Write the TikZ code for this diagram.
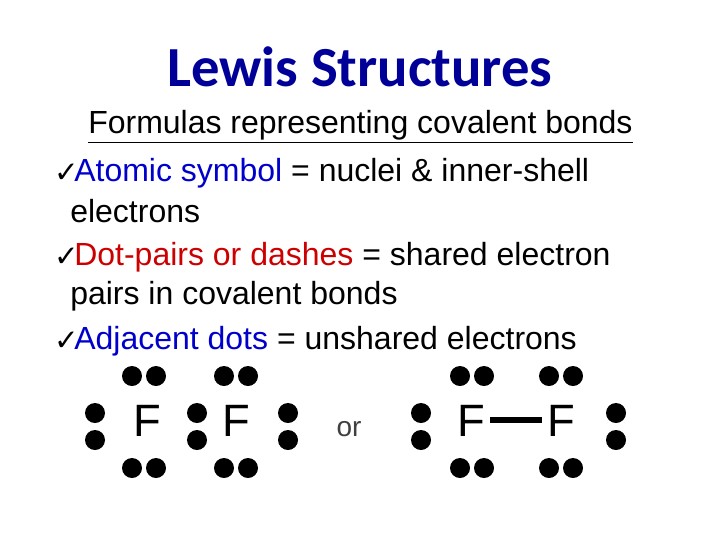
\documentclass[tikz,border=0pt]{standalone}
\usetikzlibrary{calc}
\usepackage{fontspec}
\setmainfont{Liberation Sans}
\newfontfamily\titlefont{Carlito}
\newfontfamily\djv{DejaVu Sans}
\definecolor{tblue}{HTML}{000099}
\definecolor{kblue}{HTML}{0000CC}
\definecolor{kred}{HTML}{CC0000}
\begin{document}
\begin{tikzpicture}[x=0.75pt,y=-0.75pt,
  txt/.style={anchor=west,inner sep=0pt,font=\fontsize{24}{28}\selectfont},
  chk/.style={anchor=west,inner sep=0pt,font=\djv\fontsize{22}{24}\selectfont},
  dot/.style={fill=black,circle,inner sep=0pt,minimum size=15pt},
  el/.style={font=\fontsize{34}{36}\selectfont,inner sep=0pt}]
\path[use as bounding box,fill=white] (0,0) rectangle (720,540);
\node[font=\titlefont\bfseries\fontsize{42.5}{46}\selectfont,text=tblue] (title) at (360,67) {Lewis Structures};
\node[txt] (l0) at (88,127) {\underline{Formulas representing covalent bonds}};
\node[chk] (c1) at (54,173) {✓};
\node[txt] (l1) at (74,173) {\textcolor{kblue}{Atomic symbol} = nuclei \& inner-shell};
\node[txt] (l1b) at (70,211) {electrons};
\node[chk] (c2) at (54,257) {✓};
\node[txt] (l2) at (74,257) {\textcolor{kred}{Dot-pairs or dashes} = shared electron};
\node[txt] (l2b) at (70,296) {pairs in covalent bonds};
\node[chk] (c3) at (54,341) {✓};
\node[txt] (l3) at (74,341) {\textcolor{kblue}{Adjacent dots} = unshared electrons};
\node[el] (f1) at (147,421) {F};
\node[el] (f2) at (236,421) {F};
\node[el] (f3) at (471,421) {F};
\node[el] (f4) at (561,421) {F};
\node[font=\fontsize{21}{22}\selectfont,text=black!75] (or) at (349,429) {or};
\draw[line width=3.8pt] ($(f3.east)+(5,-1)$) -- ($(f4.west)+(-5,-1)$);
\foreach \x in {132,156,224,248,460,484,549,573}{
  \node[dot] at (\x,376) {}; \node[dot] at (\x,468) {};}
\foreach \x in {95,197,288,421,616}{
  \node[dot] at (\x,413) {}; \node[dot] at (\x,440) {};}
\end{tikzpicture}
\end{document}
